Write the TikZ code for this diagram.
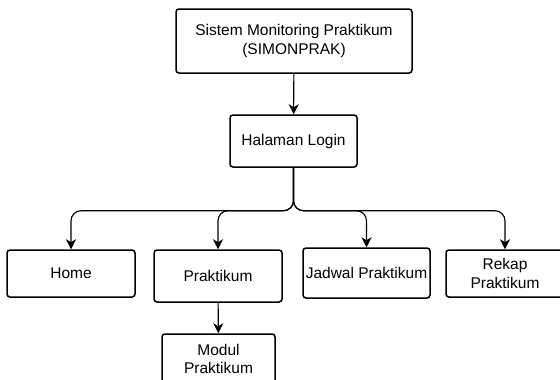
\documentclass[tikz,border=0pt]{standalone}
\usepackage{fontspec}
\setmainfont{Liberation Sans}
\usetikzlibrary{arrows.meta}
\begin{document}
\begin{tikzpicture}
[x=1pt,y=-1pt,
box/.style={draw,rectangle,rounded corners=3pt,line width=1.5pt,align=center,inner sep=0pt,font=\fontsize{15.5}{18.5}\selectfont},
link/.style={draw,line width=1.1pt,rounded corners=10pt,-{Stealth[length=10pt,width=10pt,inset=3pt]}}]
\useasboundingbox (0,0) rectangle (560,380);
\node[box,minimum width=236pt,minimum height=64pt] (sys) at (294,41) {Sistem Monitoring Praktikum\\(SIMONPRAK)};
\node[box,minimum width=127pt,minimum height=52pt] (login) at (293.5,141) {Halaman Login};
\node[box,minimum width=128pt,minimum height=47pt] (home) at (71,273.5) {Home};
\node[box,minimum width=128pt,minimum height=52pt] (prak) at (218,276) {Praktikum};
\node[box,minimum width=127pt,minimum height=50pt] (jadwal) at (366.5,273) {Jadwal Praktikum};
\node[box,minimum width=118pt,minimum height=47pt] (rekap) at (505,273.5) {Rekap\\Praktikum};
\node[box,minimum width=113pt,minimum height=50pt] (modul) at (218.5,359) {Modul\\Praktikum};
\draw[link] (sys) -- (login);
\foreach \c in {home,prak,jadwal,rekap}
{
	\draw[link] (login.south) -- ++(0,43) -| (\c.north);
}
\draw[link] (prak) -- (modul);
\end{tikzpicture}
\end{document}
